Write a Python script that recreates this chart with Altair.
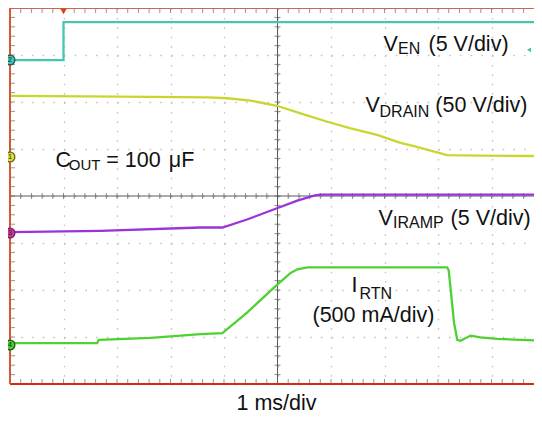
import altair as alt
import pandas as pd

X_MAX = 9.794   # visible horizontal divisions (53.5 px per division)
Y_MAX = 8.0     # vertical divisions

# ---- traces (x: time divisions, 1 ms/div; y: screen divisions) ----
VEN_X = [0.0, 1.0, 1.0, 9.96]
VEN_Y = [6.89, 6.89, 7.70, 7.70]

VDRAIN_X = [0.0, 1.40, 2.63, 3.70, 4.06, 4.50, 4.99, 5.43, 5.93, 6.37, 6.86, 7.30, 7.55, 8.17, 8.79, 9.96]
VDRAIN_Y = [6.13, 6.12, 6.11, 6.10, 6.08, 6.03, 5.92, 5.76, 5.58, 5.44, 5.30, 5.13, 5.06, 4.87, 4.86, 4.85]

VIRAMP_X = [0.0, 1.69, 3.56, 3.97, 4.43, 4.99, 5.37, 5.68, 5.80, 9.96]
VIRAMP_Y = [3.23, 3.26, 3.33, 3.33, 3.50, 3.74, 3.90, 4.01, 4.03, 4.03]

IRTN_X = [0.0, 1.63, 1.66, 2.63, 3.56, 3.97, 4.43, 4.99, 5.24, 5.37, 5.56,
          8.17, 8.20, 8.30, 8.36, 8.42, 8.61, 8.79, 9.11, 9.96]
IRTN_Y = [0.87, 0.87, 0.94, 0.98, 1.06, 1.08, 1.52, 2.11, 2.36, 2.44, 2.48,
          2.48, 2.42, 1.30, 0.94, 0.92, 1.03, 0.99, 0.96, 0.92]

SERIES = ["VEN", "VDRAIN", "VIRAMP", "IRTN"]
COLORS = ["#44c6b2", "#c9d62e", "#9a34d6", "#4ed232"]

# ---- annotation text (position in divisions) ----
TXT = ["V", "EN", "(5 V/div)",
       "V", "DRAIN", "(50 V/div)",
       "C", "OUT", "= 100", "\u03bcF",
       "V", "IRAMP", "(5 V/div)",
       "I", "RTN", "(500 mA/div)",
       "1 ms/div"]
TXT_X = [6.981, 7.252, 7.822,
         6.645, 6.907, 7.950,
         0.850, 1.099, 1.800, 2.968,
         6.888, 7.159, 8.234,
         6.383, 6.533, 5.654,
         4.234]
TXT_Y = [7.085, 7.021, 7.085,
         5.781, 5.691, 5.781,
         4.623, 4.553, 4.623, 4.623,
         3.383, 3.309, 3.383,
         1.957, 1.809, 1.326,
         -0.553]
TXT_SIZE = [21.5, 16, 21.5,
            21.5, 16, 21.5,
            21.5, 15, 21.5, 21.5,
            21.5, 16, 21.5,
            21.5, 16, 21.5,
            21.5]

# ---- channel ground markers ----
MK_LABEL = ["2", "1", "3", "4"]
MK_Y = [6.894, 4.830, 3.213, 0.830]
MK_FILL = ["#46c4b4", "#d6df3c", "#cc3a9c", "#46d030"]
MK_STROKE = ["#1f5a50", "#6a6a10", "#7a2060", "#1f5a10"]

# ---- graticule ----
GRID_X = [0, 1, 2, 3, 4, 5, 6, 7, 8, 9]
GRID_Y = [0, 1, 2, 3, 4, 5, 6, 7, 8]
MINOR_X = [i / 5 for i in range(0, 49)]
MINOR_Y = [i / 5 for i in range(0, 41)]

X_AXIS = alt.Axis(values=GRID_X, grid=True, gridColor="#c4c4c4", gridDash=[1.6, 7.8],
                  gridWidth=1.3, domain=False, ticks=False, labels=False, title=None)
Y_AXIS = alt.Axis(values=GRID_Y, grid=True, gridColor="#c4c4c4", gridDash=[1.6, 9.1],
                  gridWidth=1.3, domain=False, ticks=False, labels=False, title=None)
XS = alt.Scale(domain=[0, X_MAX], nice=False, zero=False, padding=0)
YS = alt.Scale(domain=[0, Y_MAX], nice=False, zero=False, padding=0)


def X(f):
    return alt.X(f, type="quantitative", scale=XS, axis=X_AXIS)


def Y(f):
    return alt.Y(f, type="quantitative", scale=YS, axis=Y_AXIS)


rows = []
for name, xs, ys in [("VEN", VEN_X, VEN_Y), ("VDRAIN", VDRAIN_X, VDRAIN_Y),
                     ("VIRAMP", VIRAMP_X, VIRAMP_Y), ("IRTN", IRTN_X, IRTN_Y)]:
    for i, (a, b) in enumerate(zip(xs, ys)):
        rows.append({"series": name, "x": a, "y": b, "i": i})
traces_df = pd.DataFrame(rows)

text_df = pd.DataFrame({"x": TXT_X, "y": TXT_Y, "t": TXT, "s": TXT_SIZE})
mk_df = pd.DataFrame({"x": [0.0] * 4, "y": MK_Y, "l": MK_LABEL, "f": MK_FILL, "k": MK_STROKE})

# grid layer (axes carry the dotted graticule)
grid = alt.Chart(pd.DataFrame({"x": [0.0], "y": [0.0]})).mark_point(opacity=0).encode(x=X("x"), y=Y("y"))

# center cross lines
cx = alt.Chart(pd.DataFrame({"x": [5.0]})).mark_rule(color="#5a5a5a", strokeWidth=1).encode(x=X("x"))
cy = alt.Chart(pd.DataFrame({"y": [4.0]})).mark_rule(color="#5a5a5a", strokeWidth=1).encode(y=Y("y"))

# minor ticks
mx = pd.DataFrame({"x": MINOR_X})
my = pd.DataFrame({"y": MINOR_Y})
tick_cy = alt.Chart(mx).mark_tick(orient="vertical", size=6, thickness=1, color="#5a5a5a").encode(
    x=X("x"), y=Y("yy")).transform_calculate(yy="4")
tick_cx = alt.Chart(my).mark_tick(orient="horizontal", size=6, thickness=1, color="#5a5a5a").encode(
    y=Y("y"), x=X("xx")).transform_calculate(xx="5")
tick_top = alt.Chart(mx).mark_tick(orient="vertical", size=5, thickness=1, color="#6a6a6a", yOffset=2.5).encode(
    x=X("x"), y=Y("yy")).transform_calculate(yy="8")
tick_bot = alt.Chart(mx).mark_tick(orient="vertical", size=5, thickness=1, color="#6a6a6a", yOffset=-2.5).encode(
    x=X("x"), y=Y("yy")).transform_calculate(yy="0")
tick_left = alt.Chart(my).mark_tick(orient="horizontal", size=5, thickness=1, color="#6a6a6a", xOffset=2.5).encode(
    y=Y("y"), x=X("xx")).transform_calculate(xx="0")

# frame edges
b_top = alt.Chart(pd.DataFrame({"y": [8.0]})).mark_rule(color="#c86a50", strokeWidth=2).encode(y=Y("y"))
b_bot = alt.Chart(pd.DataFrame({"y": [0.0]})).mark_rule(color="#d42a18", strokeWidth=2).encode(y=Y("y"))
b_left = alt.Chart(pd.DataFrame({"x": [0.0]})).mark_rule(color="#d25a34", strokeWidth=2).encode(x=X("x"))

traces = alt.Chart(traces_df).mark_line(strokeWidth=2.3, clip=True, interpolate="linear").encode(
    x=X("x"), y=Y("y"),
    color=alt.Color("series:N", scale=alt.Scale(domain=SERIES, range=COLORS), legend=None),
    order=alt.Order("i:Q"),
)

texts = alt.Chart(text_df).mark_text(align="left", baseline="alphabetic", font="Liberation Sans",
                                     color="#111111").encode(
    x=X("x"), y=Y("y"), text="t:N", size=alt.Size("s:Q", scale=None))

markers = alt.Chart(mk_df).mark_point(shape="circle", filled=True, size=95, strokeWidth=1.3, opacity=1).encode(
    x=X("x"), y=Y("y"),
    fill=alt.Fill("f:N", scale=None), stroke=alt.Stroke("k:N", scale=None))
mk_text = alt.Chart(mk_df).mark_text(fontSize=7, font="Liberation Sans", color="#222222",
                                     align="center", baseline="middle").encode(
    x=X("x"), y=Y("y"), text="l:N")

trig = alt.Chart(pd.DataFrame({"x": [1.0], "y": [7.93]})).mark_point(
    shape="triangle-down", filled=True, size=45, color="#e0401c", opacity=1).encode(x=X("x"), y=Y("y"))
lvl = alt.Chart(pd.DataFrame({"x": [9.70], "y": [7.11]})).mark_point(
    shape="triangle-left", filled=True, size=22, color="#44c6b2", opacity=1).encode(x=X("x"), y=Y("y"))

chart = alt.layer(
    grid, cx, cy, tick_cy, tick_cx, tick_top, tick_bot, tick_left,
    traces, b_top, b_bot, b_left, texts, markers, mk_text, trig, lvl
).properties(
    width=524, height=376,
    padding={"left": 2, "right": 0, "top": 0, "bottom": 31},
    autosize=alt.AutoSizeParams(type="none"),
    background="white",
).configure_view(stroke=None)

chart.save("out.html", embed_options={"renderer": "svg", "actions": False})
